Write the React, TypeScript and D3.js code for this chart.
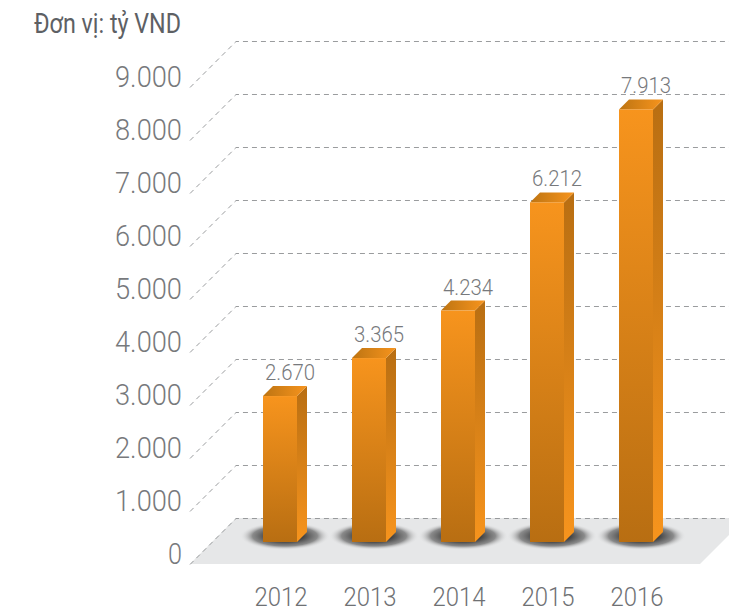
import { useEffect, useRef } from 'react';
import * as d3 from 'd3';

const years = ['2012', '2013', '2014', '2015', '2016'];
const values = [2670, 3365, 4234, 6212, 7913];
const axisTicks = [0, 1000, 2000, 3000, 4000, 5000, 6000, 7000, 8000, 9000];
const unitLabel = 'Đơn vị: tỷ VND';

const fmt = (v: number) => d3.format(',')(v).replace(/,/g, '.');

export default function App() {
  const rootRef = useRef<SVGSVGElement | null>(null);

  useEffect(() => {
    const node = rootRef.current;
    if (!node) return undefined;

    const width = 729;
    const height = 613;
    const depth = 10;
    const barWidth = 34;
    const wallDx = 46;
    const wallDy = 46;
    const font = 'Roboto, sans-serif';

    const svg = d3.select(node);
    svg.selectAll('*').remove();

    const x = d3.scalePoint().domain(years).range([280, 636]);
    const yBar = d3.scaleLinear().domain([0, 9000]).range([542, 50]);
    const yGrid = d3.scaleLinear().domain([0, 9000]).range([518, 41]);

    const defs = svg.append('defs');
    const gradient = (id: string, stops: string[], horizontal = false) => {
      const g = defs
        .append('linearGradient')
        .attr('id', id)
        .attr('x1', 0)
        .attr('y1', 0)
        .attr('x2', horizontal ? 1 : 0)
        .attr('y2', horizontal ? 0 : 1);
      stops.forEach((c, i) => {
        g.append('stop').attr('offset', i / (stops.length - 1)).attr('stop-color', c);
      });
    };
    gradient('front', ['#f7941d', '#b86e12']);
    gradient('side', ['#b86e12', '#f7941d']);
    gradient('top', ['#bd7412', '#f7941d'], true);

    const shadow = defs.append('radialGradient').attr('id', 'shadow');
    shadow.append('stop').attr('offset', 0.35).attr('stop-color', '#2b2b2b').attr('stop-opacity', 0.95);
    shadow.append('stop').attr('offset', 0.72).attr('stop-color', '#666666').attr('stop-opacity', 0.72);
    shadow.append('stop').attr('offset', 1).attr('stop-color', '#e6e7e8').attr('stop-opacity', 0);

    // floor, cut off by the right edge of the picture
    const floor = d3.path();
    floor.moveTo(190, 564);
    floor.lineTo(190 + wallDx, 564 - wallDy);
    floor.lineTo(width, 564 - wallDy);
    floor.lineTo(width, 535);
    floor.lineTo(700, 564);
    floor.closePath();
    svg.append('path').attr('d', floor.toString()).attr('fill', '#e6e7e8');

    // wall grid
    axisTicks.forEach(t => {
      const y0 = yGrid(t) + 0.5;
      svg
        .append('path')
        .attr('d', `M${190},${y0 + wallDy}L${190 + wallDx},${y0}L${width},${y0}`)
        .attr('fill', 'none')
        .attr('stroke', '#8f9193')
        .attr('stroke-width', 0.9)
        .attr('stroke-dasharray', '5 4');
    });

    svg
      .append('g')
      .selectAll('ellipse')
      .data(years)
      .join('ellipse')
      .attr('cx', d => (x(d) as number) + 5)
      .attr('cy', 536)
      .attr('rx', 45)
      .attr('ry', 14)
      .attr('fill', 'url(#shadow)');

    years.forEach((year, i) => {
      const left = (x(year) as number) - barWidth / 2;
      const right = left + barWidth;
      const top = yBar(values[i]);
      const base = yBar(0);
      const g = svg.append('g');

      g.append('path')
        .attr('d', `M${right},${top}L${right + depth},${top - depth}L${right + depth},${base - depth}L${right},${base}Z`)
        .attr('fill', 'url(#side)');
      g.append('path')
        .attr('d', `M${left},${top}L${left + depth},${top - depth}L${right + depth},${top - depth}L${right},${top}Z`)
        .attr('fill', 'url(#top)');
      g.append('rect')
        .attr('x', left)
        .attr('y', top)
        .attr('width', barWidth)
        .attr('height', base - top)
        .attr('fill', 'url(#front)');

      svg
        .append('text')
        .attr('x', left + 27)
        .attr('y', top - depth - 6)
        .attr('text-anchor', 'middle')
        .attr('font-family', font)
        .attr('font-weight', 300)
        .attr('font-size', 22)
        .attr('fill', '#77797c')
        .attr('textLength', 50)
        .attr('lengthAdjust', 'spacingAndGlyphs')
        .text(fmt(values[i]));

      svg
        .append('text')
        .attr('x', (x(year) as number) + 1)
        .attr('y', 606)
        .attr('text-anchor', 'middle')
        .attr('font-family', font)
        .attr('font-weight', 300)
        .attr('font-size', 26)
        .attr('fill', '#6f7174')
        .attr('textLength', 53)
        .attr('lengthAdjust', 'spacingAndGlyphs')
        .text(year);
    });

    axisTicks.forEach(t => {
      svg
        .append('text')
        .attr('x', 182)
        .attr('y', yGrid(t) + 46)
        .attr('text-anchor', 'end')
        .attr('font-family', font)
        .attr('font-weight', 300)
        .attr('font-size', 30)
        .attr('fill', '#77797c')
        .attr('textLength', t === 0 ? 14 : 67)
        .attr('lengthAdjust', 'spacingAndGlyphs')
        .text(fmt(t));
    });

    svg
      .append('text')
      .attr('x', 34)
      .attr('y', 33)
      .attr('font-family', font)
      .attr('font-size', 27)
      .attr('fill', '#5d6064')
      .attr('textLength', 147)
      .attr('lengthAdjust', 'spacingAndGlyphs')
      .text(unitLabel);

    svg.attr('width', width).attr('height', height);
    return () => {
      svg.selectAll('*').remove();
    };
  }, []);

  return <svg ref={rootRef} style={{ position: 'absolute', left: 0, top: 0, display: 'block' }} />;
}
